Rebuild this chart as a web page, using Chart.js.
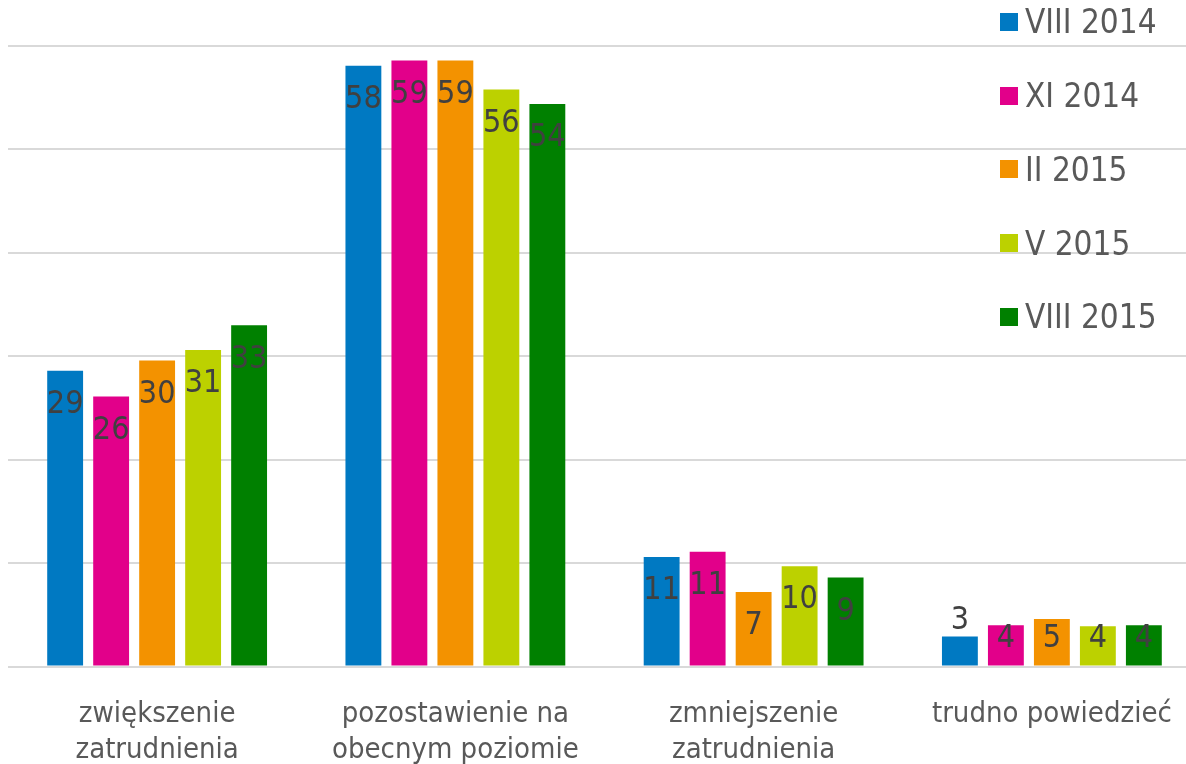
<!DOCTYPE html>
<html>
<head>
<meta charset="utf-8">
<script src="https://cdn.jsdelivr.net/npm/chart.js@4/dist/chart.umd.min.js"></script>
<style>
  html, body { margin: 0; padding: 0; background: #ffffff; overflow: hidden; }
  #wrap { position: relative; width: 1202px; height: 764px; }
  #legend { position: absolute; left: 1000px; top: 0; }
  .li { position: absolute; left: 0; white-space: nowrap; height: 40px; display: flex; align-items: center;
        font-family: "DejaVu Sans Condensed", "DejaVu Sans", sans-serif; font-size: 33px; color: #595959; }
  .sw { width: 18px; height: 18px; margin-right: 7px; flex: none; }
</style>
</head>
<body>
<div id="wrap">
  <canvas id="c" width="1202" height="764"></canvas>
  <div id="legend"></div>
</div>
<script>
const categories = [
  ["zwiększenie", "zatrudnienia"],
  ["pozostawienie na", "obecnym poziomie"],
  ["zmniejszenie", "zatrudnienia"],
  ["trudno powiedzieć"]
];
const seriesNames = ["VIII 2014", "XI 2014", "II 2015", "V 2015", "VIII 2015"];
const seriesColors = ["#0079c2", "#e2008a", "#f39200", "#bcd100", "#008000"];
const viii2014 = [28.6, 58.1, 10.6, 2.9];
const xi2014   = [26.1, 58.6, 11.1, 4.0];
const ii2015   = [29.6, 58.6, 7.2, 4.6];
const v2015    = [30.6, 55.8, 9.7, 3.9];
const viii2015 = [33.0, 54.4, 8.6, 4.0];
const seriesValues = [viii2014, xi2014, ii2015, v2015, viii2015];
const yMax = 60;
const yStep = 10;

const FONT = '"DejaVu Sans Condensed", "DejaVu Sans", sans-serif';

const labelPlugin = {
  id: 'barLabels',
  afterDatasetsDraw(chart) {
    const ctx = chart.ctx;
    ctx.save();
    ctx.font = '32px ' + FONT;
    ctx.fillStyle = '#404040';
    ctx.textAlign = 'center';
    ctx.textBaseline = 'middle';
    chart.data.datasets.forEach((ds, di) => {
      const meta = chart.getDatasetMeta(di);
      meta.data.forEach((el, i) => {
        const v = ds.data[i];
        const h = el.base - el.y;
        let cy;
        if (h < 35) cy = el.y - 16;
        else cy = Math.min(el.y + 34, el.base - 27);
        ctx.fillText(String(Math.round(v)), el.x, cy);
      });
    });
    ctx.restore();
  }
};

const chart = new Chart(document.getElementById('c'), {
  type: 'bar',
  data: {
    labels: categories,
    datasets: seriesNames.map((n, i) => ({
      label: n,
      data: seriesValues[i],
      backgroundColor: seriesColors[i],
      borderWidth: 0,
      barPercentage: 0.78,
      categoryPercentage: 0.771
    }))
  },
  options: {
    responsive: false,
    animation: false,
    devicePixelRatio: 1,
    layout: { padding: { left: 8, right: 1, top: 46, bottom: 0 } },
    plugins: { legend: { display: false }, tooltip: { enabled: false } },
    scales: {
      x: {
        grid: { display: false, drawTicks: false },
        border: { display: false },
        ticks: {
          color: '#595959',
          font: { family: FONT, size: 29, lineHeight: 1.24 },
          padding: 30,
          maxRotation: 0,
          autoSkip: false
        },
        afterFit(scale) { scale.height = 97.5; }
      },
      y: {
        min: 0, max: yMax,
        ticks: { display: false, stepSize: yStep },
        grid: { color: '#d9d9d9', lineWidth: 2, drawTicks: false },
        border: { display: false }
      }
    }
  },
  plugins: [labelPlugin]
});

const legend = document.getElementById('legend');
seriesNames.forEach((n, i) => {
  const d = document.createElement('div');
  d.className = 'li';
  d.style.top = (21.7 + i * 73.8 - 20) + 'px';
  const s = document.createElement('span');
  s.className = 'sw';
  s.style.background = seriesColors[i];
  const t = document.createElement('span');
  t.textContent = n;
  d.appendChild(s); d.appendChild(t);
  legend.appendChild(d);
});
</script>
</body>
</html>
